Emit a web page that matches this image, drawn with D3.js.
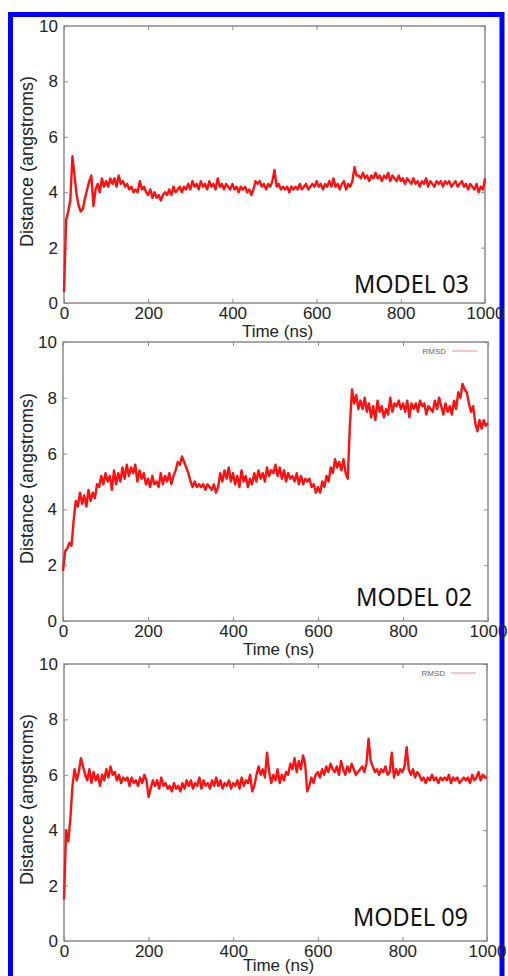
<!DOCTYPE html>
<html lang="en">
<head>
    <meta charset="UTF-8">
    <title>RMSD - Models 03, 02, 09</title>
    <script src="https://d3js.org/d3.v7.min.js"></script>
    <style>
        body {
            margin: 0;
            background: #fff;
        }
        svg {
            display: block;
        }
        .tick text {
            font-family: "Liberation Sans", Arial, sans-serif;
            font-size: 17px;
            fill: #222;
        }
        .tick line {
            stroke: #8a8a8a;
        }
    </style>
</head>
<body>
    <div id="chart"></div>
    <script>
        // data: distance (angstroms) every 5 ns, 0..1000 ns
        const modelNames = ['MODEL 03', 'MODEL 02', 'MODEL 09'];
        const timeNs = d3.range(0, 1001, 5);
        const xTicks = [0, 200, 400, 600, 800, 1000];
        const yTicks = [0, 2, 4, 6, 8, 10];
        const showLegend = [false, true, true];

        const model03 = [
            0.4, 3.0, 3.3, 3.7, 5.3, 4.6, 3.9, 3.5, 3.3, 3.4,
            3.8, 4.1, 4.4, 4.6, 3.5, 4.1, 4.3, 4.0, 4.5, 4.2,
            4.4, 4.2, 4.5, 4.3, 4.5, 4.2, 4.6, 4.3, 4.4, 4.2,
            4.3, 4.1, 4.2, 4.0, 4.1, 4.0, 4.4, 4.1, 4.2, 4.0,
            3.9, 4.1, 3.8, 4.0, 3.8, 3.9, 3.7, 3.9, 4.0, 3.9,
            4.1, 3.9, 4.2, 4.0, 4.1, 4.2, 4.0, 4.2, 4.1, 4.3,
            4.1, 4.4, 4.2, 4.3, 4.1, 4.4, 4.2, 4.3, 4.1, 4.4,
            4.2, 4.3, 4.1, 4.5, 4.2, 4.3, 4.1, 4.3, 4.2, 4.1,
            4.3, 4.1, 4.2, 4.0, 4.2, 4.1, 4.2, 4.0, 4.1, 3.9,
            4.1, 4.4, 4.3, 4.4, 4.2, 4.3, 4.1, 4.3, 4.2, 4.4,
            4.8, 4.2, 4.3, 4.1, 4.2, 4.1, 4.2, 4.0, 4.2, 4.1,
            4.2, 4.1, 4.3, 4.1, 4.2, 4.3, 4.1, 4.2, 4.3, 4.2,
            4.4, 4.2, 4.3, 4.1, 4.3, 4.2, 4.4, 4.2, 4.5, 4.2,
            4.3, 4.1, 4.3, 4.4, 4.1, 4.3, 4.2, 4.4, 4.9, 4.6,
            4.6, 4.5, 4.7, 4.5, 4.6, 4.4, 4.6, 4.5, 4.7, 4.5,
            4.6, 4.4, 4.6, 4.5, 4.7, 4.4, 4.6, 4.5, 4.4, 4.6,
            4.4, 4.5, 4.3, 4.5, 4.4, 4.3, 4.5, 4.3, 4.4, 4.2,
            4.4, 4.3, 4.5, 4.2, 4.4, 4.3, 4.2, 4.4, 4.3, 4.4,
            4.2, 4.4, 4.3, 4.4, 4.2, 4.3, 4.4, 4.2, 4.3, 4.4,
            4.2, 4.3, 4.1, 4.3, 4.2, 4.1, 4.3, 4.0, 4.2, 4.1,
            4.5
        ];

        const model02 = [
            1.8, 2.5, 2.6, 2.8, 2.7, 3.6, 4.3, 4.1, 4.6, 4.2,
            4.5, 4.1, 4.7, 4.3, 4.6, 4.4, 4.9, 4.8, 5.2, 4.9,
            5.3, 5.0, 5.2, 4.7, 5.4, 4.9, 5.3, 5.0, 5.5, 5.1,
            5.6, 5.2, 5.5, 5.3, 5.6, 5.0, 5.4, 5.1, 5.3, 4.9,
            5.1, 4.8, 5.2, 4.9, 5.0, 4.8, 5.3, 4.9, 5.2, 5.0,
            5.3, 4.9, 5.2, 5.4, 5.7, 5.6, 5.9, 5.7, 5.5, 5.3,
            5.0, 4.8, 5.0, 4.8, 4.9, 4.8, 4.9, 4.7, 4.9, 4.8,
            4.7, 4.9, 4.6, 4.8, 5.3, 5.0, 5.4, 5.1, 5.5, 5.0,
            5.3, 4.9, 5.2, 4.8, 5.4, 5.0, 5.2, 4.8, 5.1, 4.9,
            5.3, 5.0, 5.4, 5.1, 5.3, 5.0, 5.5, 5.2, 5.4, 5.3,
            5.6, 5.2, 5.5, 5.1, 5.4, 5.0, 5.3, 5.1, 5.2, 5.0,
            5.3, 4.9, 5.2, 4.9, 5.1, 5.0, 5.1, 4.8, 4.9, 4.6,
            4.8, 4.6, 5.0, 4.8, 5.2, 5.0, 5.5, 5.3, 5.8, 5.5,
            5.7, 5.4, 5.8, 5.3, 5.1, 7.0, 8.3, 7.8, 8.1, 7.6,
            7.9, 7.6, 8.0, 7.5, 7.8, 7.3, 7.7, 7.2, 7.9, 7.5,
            7.7, 7.3, 7.6, 7.4, 8.0, 7.5, 7.8, 7.7, 7.9, 7.6,
            7.8, 7.5, 7.9, 7.3, 7.8, 7.6, 7.8, 7.5, 7.9, 7.7,
            7.8, 7.4, 7.7, 7.6, 7.5, 7.9, 7.6, 8.0, 7.7, 7.4,
            7.8, 7.5, 7.7, 7.4, 7.9, 7.6, 8.2, 8.0, 8.5, 8.3,
            8.2, 7.8, 7.5, 7.7, 7.1, 6.8, 7.2, 6.9, 7.2, 7.0,
            7.1
        ];

        const model09 = [
            1.5, 4.0, 3.6, 4.4, 5.6, 6.2, 5.8, 6.1, 6.6, 6.3,
            6.0, 5.8, 6.2, 5.7, 6.1, 5.8, 6.0, 5.6, 6.0, 5.8,
            6.2, 5.9, 6.3, 6.0, 6.1, 5.8, 6.0, 5.7, 5.9, 5.8,
            5.9, 5.6, 5.9, 5.7, 5.8, 5.6, 5.9, 5.7, 6.0, 5.8,
            5.2, 5.5, 5.8, 5.6, 5.8, 5.5, 5.9, 5.6, 5.7, 5.5,
            5.6, 5.4, 5.7, 5.5, 5.6, 5.4, 5.7, 5.5, 5.8, 5.6,
            5.8, 5.5, 5.7, 5.6, 5.9, 5.5, 5.8, 5.6, 5.7, 5.5,
            5.8, 5.6, 5.9, 5.6, 5.8, 5.5, 5.7, 5.6, 5.8, 5.5,
            5.7, 5.6, 5.8, 5.5, 5.9, 5.6, 5.8, 5.7, 6.0, 5.4,
            5.6, 6.0, 6.3, 6.0, 6.2, 5.9, 6.8, 6.1, 5.7, 6.0,
            5.8, 6.2, 5.7, 6.0, 5.8, 6.1, 6.0, 6.4, 6.2, 6.6,
            6.1, 6.5, 6.2, 6.7, 6.4, 5.4, 5.6, 5.9, 5.7, 6.0,
            6.1, 5.9, 6.2, 6.0, 6.3, 6.1, 6.4, 6.2, 6.1, 6.3,
            6.0, 6.5, 6.2, 6.0, 6.3, 6.1, 6.4, 6.2, 6.0, 6.1,
            6.2, 6.3, 6.1, 6.4, 7.3, 6.5, 6.3, 6.1, 6.2, 6.0,
            6.2, 6.1, 6.3, 6.0, 6.1, 6.8, 5.9, 6.2, 6.0, 6.2,
            6.1, 6.3, 7.0, 6.2, 6.0, 6.2, 5.9, 6.1, 6.0, 5.8,
            5.9, 5.7, 5.9, 5.8, 6.0, 5.8, 5.9, 5.7, 5.9, 5.8,
            5.9, 5.8, 6.0, 5.7, 5.9, 5.8, 5.9, 5.7, 5.8, 5.9,
            5.8, 5.9, 5.7, 6.0, 5.8, 5.9, 6.1, 5.8, 6.0, 5.9,
            5.9
        ];

        const series = [model03, model02, model09];

        // layout of the three stacked panels
        const W = 508, H = 976;
        const panels = [
            { left: 64, right: 485, top: 26, bottom: 303, labelBase: 293, labelX: 354, labelW: 115 },
            { left: 63, right: 488, top: 342, bottom: 621, labelBase: 606, labelX: 356, labelW: 116 },
            { left: 64, right: 487, top: 664, bottom: 941, labelBase: 926, labelX: 353, labelW: 115 }
        ];

        const svg = d3.select('#chart')
            .append('svg')
            .attr('width', W)
            .attr('height', H);

        svg.append('rect')
            .attr('width', W)
            .attr('height', H)
            .attr('fill', '#fff');

        // blue outer border (tick labels may sit on top of it)
        svg.append('rect')
            .attr('x', 10.5)
            .attr('y', 14.5)
            .attr('width', 491.5)
            .attr('height', 1000)
            .attr('fill', 'none')
            .attr('stroke', '#0000ff')
            .attr('stroke-width', 5);

        panels.forEach((p, i) => {
            const data = timeNs.map((t, j) => ({ t: t, v: series[i][j] }));
            const x = d3.scaleLinear().domain([0, 1000]).range([p.left, p.right]);
            const y = d3.scaleLinear().domain([0, 10]).range([p.bottom, p.top]);
            const g = svg.append('g');

            // bottom axis with labels, ticks pointing inside
            g.append('g')
                .attr('transform', `translate(0,${p.bottom})`)
                .call(d3.axisBottom(x).tickValues(xTicks).tickFormat(d3.format('d'))
                    .tickSize(-4).tickSizeOuter(0).tickPadding(4))
                .call(a => a.select('.domain').remove());

            g.append('g')
                .attr('transform', `translate(${p.left},0)`)
                .call(d3.axisLeft(y).tickValues(yTicks).tickSize(-4).tickSizeOuter(0).tickPadding(6))
                .call(a => a.select('.domain').remove());

            // mirrored ticks on top and right
            g.append('g')
                .attr('transform', `translate(0,${p.top})`)
                .call(d3.axisTop(x).tickValues(xTicks).tickSize(-4).tickSizeOuter(0).tickFormat(''))
                .call(a => a.select('.domain').remove());

            g.append('g')
                .attr('transform', `translate(${p.right},0)`)
                .call(d3.axisRight(y).tickValues(yTicks).tickSize(-4).tickSizeOuter(0).tickFormat(''))
                .call(a => a.select('.domain').remove());

            g.append('rect')
                .attr('x', p.left)
                .attr('y', p.top)
                .attr('width', p.right - p.left)
                .attr('height', p.bottom - p.top)
                .attr('fill', 'none')
                .attr('stroke', '#8a8a8a')
                .attr('stroke-width', 1.5);

            const line = d3.line()
                .x(d => x(d.t))
                .y(d => y(d.v));

            g.append('path')
                .datum(data)
                .attr('d', line)
                .attr('fill', 'none')
                .attr('stroke', '#ff1010')
                .attr('stroke-width', 2.4)
                .attr('stroke-linejoin', 'round');

            if (showLegend[i]) {
                g.append('text')
                    .attr('x', p.right - 42)
                    .attr('y', p.top + 12)
                    .attr('text-anchor', 'end')
                    .attr('font-family', 'Liberation Sans, Arial, sans-serif')
                    .attr('font-size', 8)
                    .attr('fill', '#666')
                    .text('RMSD');
                g.append('line')
                    .attr('x1', p.right - 36)
                    .attr('x2', p.right - 11)
                    .attr('y1', p.top + 9)
                    .attr('y2', p.top + 9)
                    .attr('stroke', '#ff6a6a')
                    .attr('stroke-width', 0.8);
            }

            g.append('text')
                .attr('x', p.labelX)
                .attr('y', p.labelBase)
                .attr('textLength', p.labelW)
                .attr('lengthAdjust', 'spacingAndGlyphs')
                .attr('font-family', 'Noto Sans, Open Sans, sans-serif')
                .attr('font-size', 25)
                .attr('fill', '#111')
                .text(modelNames[i]);

            // keep the last x title inside the window
            g.append('text')
                .attr('x', (p.left + p.right) / 2 + 3)
                .attr('y', Math.min(p.bottom + 34, H - 5))
                .attr('text-anchor', 'middle')
                .attr('font-family', 'Liberation Sans, Arial, sans-serif')
                .attr('font-size', 17)
                .attr('fill', '#222')
                .text('Time (ns)');

            g.append('text')
                .attr('transform', `translate(33,${(p.top + p.bottom) / 2 - 3}) rotate(-90)`)
                .attr('text-anchor', 'middle')
                .attr('font-family', 'Liberation Sans, Arial, sans-serif')
                .attr('font-size', 18)
                .attr('fill', '#222')
                .text('Distance (angstroms)');
        });
    </script>
</body>
</html>
